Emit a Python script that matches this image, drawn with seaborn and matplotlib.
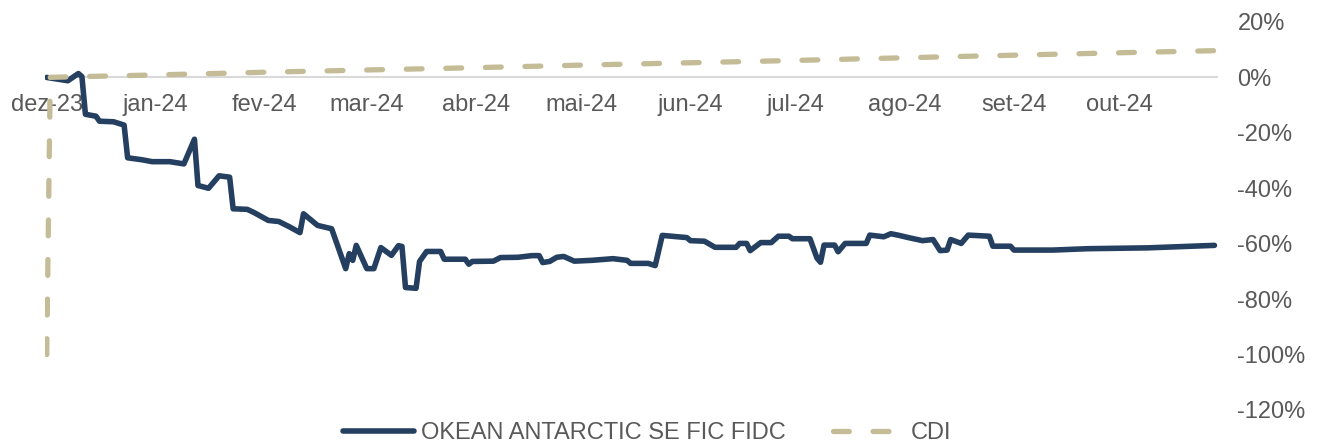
import pandas as pd
import matplotlib
matplotlib.use("Agg")
import matplotlib.pyplot as plt
import seaborn as sns

# cota acumulada do fundo (%)
fund_dates = [
    "2023-12-01", "2023-12-07", "2023-12-10", "2023-12-11", "2023-12-12", "2023-12-15",
    "2023-12-16", "2023-12-20", "2023-12-23", "2023-12-24", "2023-12-28", "2023-12-31",
    "2024-01-05", "2024-01-09", "2024-01-12", "2024-01-13", "2024-01-16", "2024-01-19",
    "2024-01-22", "2024-01-23", "2024-01-27", "2024-01-29", "2024-02-02", "2024-02-05",
    "2024-02-08", "2024-02-11", "2024-02-12", "2024-02-16", "2024-02-20", "2024-02-24",
    "2024-02-25", "2024-02-26", "2024-02-27", "2024-03-01", "2024-03-03", "2024-03-05",
    "2024-03-08", "2024-03-10", "2024-03-11", "2024-03-12", "2024-03-15", "2024-03-16",
    "2024-03-18", "2024-03-22", "2024-03-23", "2024-03-29", "2024-03-30", "2024-03-31",
    "2024-04-06", "2024-04-08", "2024-04-13", "2024-04-17", "2024-04-19", "2024-04-20",
    "2024-04-22", "2024-04-24", "2024-04-26", "2024-04-29", "2024-05-04", "2024-05-10",
    "2024-05-14", "2024-05-15", "2024-05-20", "2024-05-22", "2024-05-24", "2024-05-31",
    "2024-06-01", "2024-06-05", "2024-06-08", "2024-06-14", "2024-06-15", "2024-06-17",
    "2024-06-18", "2024-06-21", "2024-06-24", "2024-06-26", "2024-06-29", "2024-06-30",
    "2024-07-05", "2024-07-07", "2024-07-08", "2024-07-09", "2024-07-12", "2024-07-13",
    "2024-07-15", "2024-07-21", "2024-07-22", "2024-07-26", "2024-07-28", "2024-07-30",
    "2024-08-02", "2024-08-06", "2024-08-09", "2024-08-11", "2024-08-13", "2024-08-14",
    "2024-08-17", "2024-08-19", "2024-08-25", "2024-08-26", "2024-08-31", "2024-09-01",
    "2024-09-12", "2024-09-22", "2024-10-09", "2024-10-28",
]
fund_values = [
    0.0, -1.2, 1.4, 0.3, -13.3, -14.0,
    -15.8, -16.0, -17.2, -29.0, -29.7, -30.4,
    -30.4, -31.2, -22.3, -39.0, -40.0, -35.5,
    -36.0, -47.4, -47.6, -48.8, -51.6, -52.0,
    -53.9, -56.0, -49.2, -53.4, -54.6, -69.0,
    -63.6, -66.0, -60.6, -69.0, -69.0, -61.4,
    -64.2, -60.7, -61.0, -75.8, -76.1, -66.4,
    -62.8, -62.8, -65.6, -65.6, -67.4, -66.4,
    -66.3, -65.0, -64.9, -64.3, -64.3, -66.8,
    -66.4, -64.9, -64.6, -66.3, -66.0, -65.4,
    -66.0, -67.1, -67.1, -67.9, -57.0, -57.8,
    -58.9, -59.1, -61.3, -61.3, -59.9, -59.9,
    -62.5, -59.6, -59.6, -57.3, -57.3, -58.2,
    -58.2, -65.2, -66.7, -60.5, -60.5, -62.9,
    -59.9, -59.9, -56.9, -57.5, -56.4, -56.9,
    -57.8, -58.9, -58.5, -62.5, -62.3, -58.5,
    -59.9, -56.9, -57.3, -60.9, -60.9, -62.3,
    -62.3, -61.8, -61.5, -60.6,
]

# CDI acumulado (%)
cdi_dates = [
    "2023-12-01", "2023-12-02", "2024-01-01", "2024-02-01", "2024-03-01", "2024-04-01",
    "2024-05-01", "2024-06-01", "2024-07-01", "2024-08-01", "2024-09-01", "2024-10-01",
    "2024-10-28",
]
cdi_values = [-100.0, 0.03, 0.90, 1.87, 2.68, 3.52, 4.43, 5.29, 6.13, 7.10, 8.02, 8.90, 9.65]

month_ticks = ["2023-12-01", "2024-01-01", "2024-02-01", "2024-03-01", "2024-04-01", "2024-05-01",
               "2024-06-01", "2024-07-01", "2024-08-01", "2024-09-01", "2024-10-01"]
month_labels = ["dez-23", "jan-24", "fev-24", "mar-24", "abr-24", "mai-24",
                "jun-24", "jul-24", "ago-24", "set-24", "out-24"]
y_ticks = [20, 0, -20, -40, -60, -80, -100, -120]

df_fund = pd.DataFrame({"data": pd.to_datetime(fund_dates), "valor": fund_values})
df_cdi = pd.DataFrame({"data": pd.to_datetime(cdi_dates), "valor": cdi_values})

sns.set_style("white")
plt.rcParams["font.family"] = ["Liberation Sans", "DejaVu Sans"]
txt = "#595959"
navy = "#243F60"
tan = "#C4BC96"

fig = plt.figure(figsize=(13.19, 4.47), dpi=100)
ax = fig.add_axes([0.0341, 0.0828, 0.8893, 0.868])

ax.axhline(0, color="#D9D9D9", lw=1.5, zorder=1)
sns.lineplot(data=df_fund, x="data", y="valor", ax=ax, color=navy, lw=4.0,
             solid_capstyle="round", solid_joinstyle="round",
             label="OKEAN ANTARCTIC SE FIC FIDC", legend=False)
sns.lineplot(data=df_cdi, x="data", y="valor", ax=ax, color=tan, lw=3.8,
             linestyle=(0, (3.0, 4.5)), dash_capstyle="round",
             label="CDI", legend=False)

ax.set_xlim(pd.Timestamp("2023-11-30 12:00"), pd.Timestamp("2024-10-29"))
ax.set_ylim(-120, 20)

ax.set_xticks(pd.to_datetime(month_ticks))
ax.set_xticklabels(month_labels)
ax.set_yticks(y_ticks)
ax.set_yticklabels([f"{v}%" for v in y_ticks])
ax.yaxis.tick_right()
ax.spines["bottom"].set_position(("data", 0))
for s in ax.spines.values():
    s.set_visible(False)
ax.tick_params(axis="x", length=0, pad=12, labelsize=17, labelcolor=txt)
ax.tick_params(axis="y", length=0, pad=14, labelsize=17, labelcolor=txt)
ax.set_xlabel("")
ax.set_ylabel("")
ax.grid(False)

handles = ax.get_lines()[1:3]
fig.legend(handles, [h.get_label() for h in handles], loc="center",
           bbox_to_anchor=(647 / 1319, 0.031), ncol=2, frameon=False,
           fontsize=17, labelcolor=txt, handlelength=3.0, handletextpad=0.3,
           columnspacing=2.0)

fig.savefig("out.png", dpi=100)
